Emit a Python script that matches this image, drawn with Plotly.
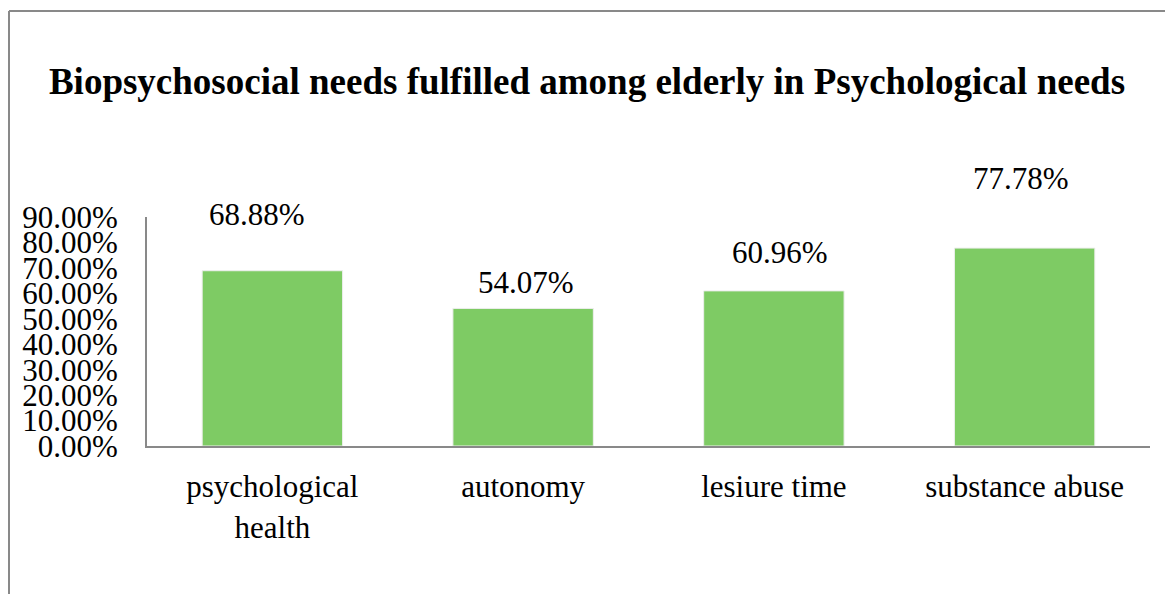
import plotly.graph_objects as go

# Data
categories = ["psychological<br>health", "autonomy", "lesiure time", "substance abuse"]
values = [0.6888, 0.5407, 0.6096, 0.7778]
value_labels = ["68.88%", "54.07%", "60.96%", "77.78%"]
tick_vals = [0.0, 0.1, 0.2, 0.3, 0.4, 0.5, 0.6, 0.7, 0.8, 0.9]
tick_text = ["0.00%", "10.00%", "20.00%", "30.00%", "40.00%", "50.00%",
             "60.00%", "70.00%", "80.00%", "90.00%"]
title_text = "Biopsychosocial needs fulfilled among elderly in Psychological needs"

# Layout geometry (pixels)
W, H = 1165, 594
L, R, T, B = 147, 15, 217, 148
plot_w = W - L - R
plot_h = H - T - B

# Per-label pixel offsets for the value labels
label_yshift = [56, 26, 38, 70]
label_xshift = [-15, 3, 6, -4]

FONT = "Liberation Serif, Times New Roman, serif"
BAR_COLOR = "#7ECB64"
AXIS_COLOR = "#898989"

fig = go.Figure()
fig.add_trace(go.Bar(
    x=categories,
    y=values,
    marker=dict(color=BAR_COLOR, line=dict(color="#EEEEEE", width=1)),
    hoverinfo="skip",
))

for cat, v, txt, dy, dx in zip(categories, values, value_labels, label_yshift, label_xshift):
    fig.add_annotation(
        x=cat, y=v, text=txt, showarrow=False,
        xref="x", yref="y", yanchor="middle", xanchor="center",
        yshift=dy, xshift=dx,
        font=dict(family=FONT, size=31, color="#000000"),
    )

# Frame lines on the left and top of the chart area
px2x = lambda p: (p - L) / plot_w
py2y = lambda p: (H - B - p) / plot_h
fig.add_shape(type="line", xref="paper", yref="paper",
              x0=px2x(9), x1=px2x(9), y0=py2y(11), y1=py2y(H + 5),
              line=dict(color=AXIS_COLOR, width=2))
fig.add_shape(type="line", xref="paper", yref="paper",
              x0=px2x(9), x1=px2x(W + 5), y0=py2y(11), y1=py2y(11),
              line=dict(color=AXIS_COLOR, width=2))

fig.update_layout(
    width=W, height=H,
    margin=dict(l=L, r=R, t=T, b=B, pad=0),
    paper_bgcolor="white", plot_bgcolor="white",
    showlegend=False,
    bargap=0.44,
    title=dict(
        text=f"<b>{title_text}</b>",
        x=587 / W, xref="container", xanchor="center",
        y=1 - 81 / H, yref="container", yanchor="middle",
        font=dict(family=FONT, size=37, color="#000000"),
    ),
    font=dict(family=FONT, color="#000000"),
)

fig.update_xaxes(
    showline=True, linecolor=AXIS_COLOR, linewidth=2,
    showgrid=False, zeroline=False,
    ticks="outside", ticklen=12, tickcolor="rgba(0,0,0,0)",
    tickfont=dict(family=FONT, size=31, color="#000000"),
)
fig.update_yaxes(
    range=[0, 0.9],
    tickmode="array", tickvals=tick_vals, ticktext=tick_text,
    showline=True, linecolor=AXIS_COLOR, linewidth=2,
    showgrid=False, zeroline=False,
    ticks="outside", ticklen=21, tickcolor="rgba(0,0,0,0)",
    tickfont=dict(family=FONT, size=31, color="#000000"),
)

fig.write_html("out.html")
